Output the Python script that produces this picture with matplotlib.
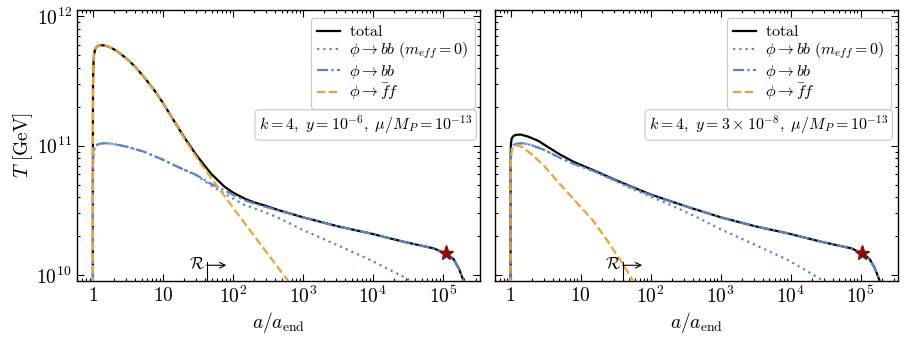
import numpy as np
import matplotlib
matplotlib.use("Agg")
import matplotlib.pyplot as plt
from matplotlib.ticker import FixedLocator, FixedFormatter, LogLocator, NullFormatter

plt.rcParams['mathtext.fontset'] = 'cm'

# ---------------- data ----------------
# Left panel: k=4, y=1e-6
a_tot_L = [1.0, 1.001, 1.005, 1.015, 1.04, 1.08, 1.15, 1.3, 1.5, 1.8, 2.2, 3, 4, 5.5, 7.5, 10, 14, 20,
           30, 40, 50, 75, 100, 150, 200, 300, 430, 1020, 3060, 9150, 27400, 73400, 1.1e5, 1.42e5, 1.7e5, 1.95e5, 2.2e5]
T_tot_L = [1e9, 1.5e11, 3.0e11, 4.2e11, 5.1e11, 5.6e11, 5.9e11, 6.0e11, 5.95e11, 5.75e11, 5.4e11, 4.75e11, 4.1e11,
           3.35e11, 2.7e11, 2.15e11, 1.6e11, 1.17e11,
           8.5e10, 6.95e10, 6.0e10, 4.85e10, 4.35e10, 3.88e10, 3.65e10, 3.42e10, 3.2e10, 2.79e10, 2.39e10, 2.1e10,
           1.81e10, 1.61e10, 1.47e10, 1.33e10, 1.12e10, 9.2e9, 7.5e9]

a_ff_L = [1.0, 1.001, 1.005, 1.015, 1.04, 1.08, 1.15, 1.3, 1.5, 1.8, 2.2, 3, 4, 5.5, 7.5, 10, 14, 20,
          30, 40, 60, 100, 200, 300, 500, 700]
T_ff_L = [1e9, 1.5e11, 3.0e11, 4.2e11, 5.1e11, 5.6e11, 5.9e11, 6.0e11, 5.95e11, 5.75e11, 5.4e11, 4.75e11, 4.1e11,
          3.35e11, 2.7e11, 2.15e11, 1.6e11, 1.15e11, 8.2e10, 6.55e10, 4.85e10, 3.33e10, 2.02e10, 1.51e10,
          1.045e10, 8.2e9]

a_bb_L = [1.0, 1.001, 1.004, 1.01, 1.03, 1.08, 1.2, 1.4, 1.6, 2.0, 3, 5.35, 10, 16, 30, 48, 80, 144, 250, 430,
          1020, 3060, 9150, 27400, 73400, 1.1e5, 1.42e5, 1.7e5, 1.95e5, 2.2e5]
T_bb_L = [1e9, 4e10, 6.5e10, 8e10, 9.2e10, 9.9e10, 1.03e11, 1.045e11, 1.045e11, 1.03e11, 9.85e10, 9.0e10, 7.8e10,
          6.9e10, 5.95e10, 5.1e10, 4.45e10, 3.8e10, 3.45e10, 3.18e10, 2.79e10, 2.39e10, 2.1e10, 1.81e10, 1.61e10,
          1.47e10, 1.33e10, 1.12e10, 9.2e9, 7.5e9]

a_dot_L = [1.0, 1.001, 1.004, 1.01, 1.03, 1.08, 1.2, 1.4, 1.6, 2.0, 3, 5.35, 10, 16, 30, 48, 80, 144, 250, 430,
           1020, 3060, 9150, 30600, 45000]
T_dot_L = [1e9, 4e10, 6.5e10, 8e10, 9.2e10, 9.9e10, 1.03e11, 1.045e11, 1.045e11, 1.03e11, 9.85e10, 9.0e10, 7.8e10,
           6.9e10, 5.9e10, 4.95e10, 4.2e10, 3.5e10, 3.15e10, 2.8e10, 2.22e10, 1.71e10, 1.31e10, 9.4e9, 8.3e9]

# Right panel: k=4, y=3e-8
a_tot_R = [1.0, 1.001, 1.005, 1.015, 1.04, 1.1, 1.2, 1.4, 1.8, 2.5, 3.5, 5, 8, 15, 30, 50, 100, 200, 400,
           1020, 3060, 9150, 27400, 73400, 1.05e5, 1.35e5, 1.6e5, 1.85e5, 2.1e5]
T_tot_R = [1e9, 6e10, 9e10, 1.05e11, 1.14e11, 1.19e11, 1.215e11, 1.22e11, 1.175e11, 1.09e11, 9.7e10, 8.6e10, 7.5e10,
           6.5e10, 5.5e10, 4.9e10, 4.2e10, 3.7e10, 3.27e10, 2.79e10, 2.39e10, 2.1e10, 1.81e10, 1.61e10, 1.48e10,
           1.33e10, 1.13e10, 9.2e9, 7.5e9]

a_ff_R = [1.0, 1.001, 1.005, 1.015, 1.04, 1.1, 1.2, 1.3, 1.5, 2, 3, 5, 8, 15, 25, 40, 60, 80]
T_ff_R = [1e9, 4e10, 6.5e10, 8.2e10, 9.3e10, 9.9e10, 1.005e11, 1.0e11, 9.7e10, 8.6e10, 7.0e10, 5.1e10, 3.85e10,
          2.65e10, 1.8e10, 1.22e10, 8.5e9, 6.6e9]

a_bb_R = [1.0, 1.001, 1.005, 1.015, 1.04, 1.1, 1.2, 1.35, 1.6, 2, 3, 5, 8, 15, 30, 50, 100, 200, 400,
          1020, 3060, 9150, 27400, 73400, 1.05e5, 1.35e5, 1.6e5, 1.85e5, 2.1e5]
T_bb_R = [1e9, 4e10, 6.8e10, 8.5e10, 9.6e10, 1.01e11, 1.035e11, 1.045e11, 1.04e11, 1.01e11, 9.3e10, 8.1e10, 7.25e10,
          6.4e10, 5.45e10, 4.85e10, 4.15e10, 3.68e10, 3.27e10, 2.79e10, 2.39e10, 2.1e10, 1.81e10, 1.61e10, 1.48e10,
          1.33e10, 1.13e10, 9.2e9, 7.5e9]

a_dot_R = [1.0, 1.001, 1.005, 1.015, 1.04, 1.1, 1.2, 1.35, 1.6, 2, 3, 5, 8, 15, 30, 50, 100, 200, 430,
           1020, 3060, 9150, 28700, 40000]
T_dot_R = [1e9, 4e10, 6.8e10, 8.5e10, 9.6e10, 1.01e11, 1.035e11, 1.045e11, 1.04e11, 1.01e11, 9.3e10, 8.1e10, 7.25e10,
           6.4e10, 5.4e10, 4.75e10, 4.05e10, 3.45e10, 2.85e10, 2.25e10, 1.72e10, 1.31e10, 9.1e9, 8.3e9]

star_L = (1.1e5, 1.47e10)
star_R = (1.05e5, 1.48e10)
aR_L = 42.5
aR_R = 40.0

x_ticks = [1, 10, 100, 1e3, 1e4, 1e5]
x_labels = ['$1$', '$10$', '$10^2$', '$10^3$', '$10^4$', '$10^5$']
y_ticks = [1e10, 1e11, 1e12]
y_labels = ['$10^{10}$', '$10^{11}$', '$10^{12}$']

labels = [r'$\mathrm{total}$', r'$\phi\rightarrow bb\ (m_{eff}=0)$', r'$\phi\rightarrow bb$',
          r'$\phi\rightarrow \bar{f}f$']
info_L = r'$k=4,\ y=10^{-6},\ \mu/M_P=10^{-13}$'
info_R = r'$k=4,\ y=3\times10^{-8},\ \mu/M_P=10^{-13}$'

# ---------------- style ----------------
BLUE = '#5A85C5'
ORANGE = '#E9A53A'
XLIM = (0.6, 3.4e5)
YLIM = (9.06e9, 1.13e12)

fig = plt.figure(figsize=(9.1, 3.43), dpi=100)
axL = fig.add_axes([0.085, 0.182, 0.4425, 0.790])
axR = fig.add_axes([0.544, 0.182, 0.4425, 0.790])


def draw(ax, at, Tt, ad, Td, ab, Tb, af, Tf, star, aR, info, ylab, legx):
    h1, = ax.plot(at, Tt, color='black', lw=1.6, zorder=2)
    h2, = ax.plot(ad, Td, color=BLUE, lw=1.6, ls=(0, (1, 1.8)), zorder=3)
    h3, = ax.plot(ab, Tb, color=BLUE, lw=1.6, ls=(0, (5, 1.5, 1, 1.5)), zorder=4)
    h4, = ax.plot(af, Tf, color=ORANGE, lw=1.6, ls='--', zorder=5)
    ax.plot([star[0]], [star[1]], marker='*', ms=11, color='#8B0A0A', mec='#8B0A0A', zorder=6)
    ax.set_xscale('log')
    ax.set_yscale('log')
    ax.set_xlim(*XLIM)
    ax.set_ylim(*YLIM)
    ax.xaxis.set_major_locator(FixedLocator(x_ticks))
    ax.xaxis.set_major_formatter(FixedFormatter(x_labels))
    ax.yaxis.set_major_locator(FixedLocator(y_ticks))
    ax.yaxis.set_major_formatter(FixedFormatter(y_labels))
    ax.xaxis.set_minor_locator(LogLocator(base=10, subs=np.arange(2, 10), numticks=30))
    ax.yaxis.set_minor_locator(LogLocator(base=10, subs=np.arange(2, 10), numticks=30))
    ax.xaxis.set_minor_formatter(NullFormatter())
    ax.yaxis.set_minor_formatter(NullFormatter())
    ax.tick_params(which='both', direction='in', top=True, right=True, labelsize=14, width=0.8)
    ax.tick_params(which='major', length=5, pad=4)
    ax.tick_params(which='minor', length=2.5)
    if not ylab:
        ax.tick_params(labelleft=False)
    for s in ax.spines.values():
        s.set_linewidth(1.0)
    ax.set_xlabel(r'$a/a_{\mathrm{end}}$', fontsize=14, labelpad=2)
    if ylab:
        ax.set_ylabel(r'$T\ [\mathrm{GeV}]$', fontsize=14, labelpad=1)
    leg = ax.legend([h1, h2, h3, h4], labels, loc='upper right', bbox_to_anchor=(legx, 0.969),
                    fontsize=11.5, fancybox=True, framealpha=1, edgecolor='#c8c8c8', handlelength=1.4,
                    borderaxespad=0.0, labelspacing=0.08, borderpad=0.4, handletextpad=0.6)
    leg.get_frame().set_linewidth(0.8)
    ax.text(legx - 0.007, 0.574, info, transform=ax.transAxes, ha='right', va='center', fontsize=11.5,
            bbox=dict(boxstyle='round,pad=0.25', fc='white', ec='#c8c8c8', lw=0.8))
    # reheating marker
    ax.plot([aR, aR], [YLIM[0], 1.27e10], color='black', lw=0.8, zorder=7)
    ax.annotate('', xy=(aR * 1.9, 1.19e10), xytext=(aR, 1.19e10),
                arrowprops=dict(arrowstyle='->', lw=0.8, color='black', shrinkA=0, shrinkB=0), zorder=7)
    ax.text(aR * 0.95, 1.21e10, r'$\mathcal{R}$', ha='right', va='center', fontsize=12, zorder=7)


draw(axL, a_tot_L, T_tot_L, a_dot_L, T_dot_L, a_bb_L, T_bb_L, a_ff_L, T_ff_L, star_L, aR_L, info_L, True, 0.988)
draw(axR, a_tot_R, T_tot_R, a_dot_R, T_dot_R, a_bb_R, T_bb_R, a_ff_R, T_ff_R, star_R, aR_R, info_R, False, 0.984)

fig.savefig('out.png', dpi=100)
